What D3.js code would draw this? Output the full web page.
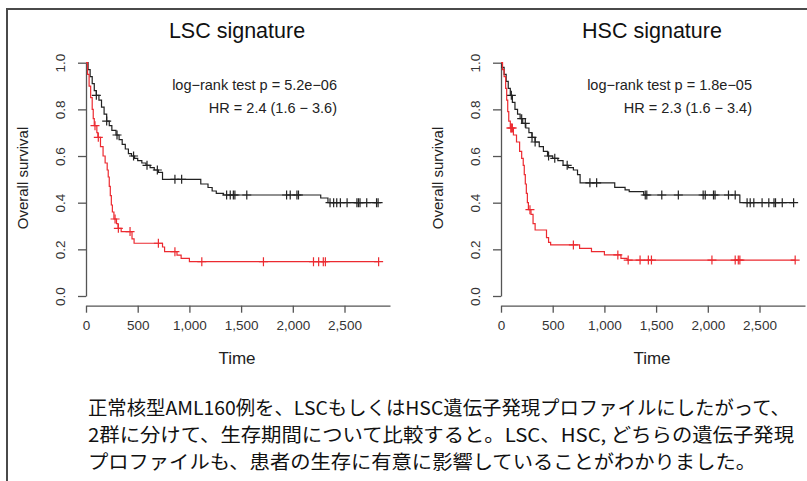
<!DOCTYPE html>
<html>
<head>
<meta charset="utf-8">
<style>body { margin: 0; background: #fff; }</style>
</head>
<body>
<script src="https://cdnjs.cloudflare.com/ajax/libs/d3/7.8.5/d3.min.js"></script>
<script>
var svgWidth = 807, svgHeight = 481;

// axis ticks
var timeTicks = [0, 500, 1000, 1500, 2000, 2500];
var survTicks = [0, 0.2, 0.4, 0.6, 0.8, 1.0];

// LSC signature panel: low-risk (black) and high-risk (red) groups
var lscBlackTime = [0, 20, 40, 60, 80, 100, 125, 150, 175, 200, 225, 250, 290, 320, 350, 380, 410, 440, 470, 500, 540, 580, 620, 660, 700, 740, 1110, 1180, 1220, 1260, 1330, 2270, 2340];
var lscBlackSurv = [1.0, 0.97, 0.94, 0.91, 0.88, 0.86, 0.84, 0.81, 0.78, 0.75, 0.73, 0.71, 0.69, 0.67, 0.65, 0.63, 0.61, 0.60, 0.59, 0.58, 0.57, 0.56, 0.55, 0.54, 0.53, 0.50, 0.48, 0.465, 0.45, 0.44, 0.433, 0.42, 0.40];
var lscBlackCensor = [100, 200, 300, 460, 590, 690, 860, 925, 1360, 1395, 1425, 1440, 1555, 1940, 1975, 2040, 2055, 2360, 2395, 2425, 2460, 2525, 2620, 2635, 2650, 2715, 2810, 2825];

var lscRedTime = [0, 15, 30, 45, 60, 70, 80, 105, 115, 140, 165, 185, 205, 215, 225, 235, 245, 255, 270, 295, 310, 340, 445, 465, 740, 760, 880, 920, 1000];
var lscRedSurv = [1.0, 0.95, 0.90, 0.85, 0.80, 0.76, 0.73, 0.70, 0.68, 0.64, 0.60, 0.57, 0.54, 0.51, 0.47, 0.43, 0.39, 0.36, 0.33, 0.31, 0.29, 0.276, 0.245, 0.226, 0.21, 0.19, 0.175, 0.161, 0.147];
var lscRedCensor = [87, 119, 281, 313, 426, 700, 860, 1120, 1716, 2200, 2250, 2295, 2315, 2830];

// HSC signature panel
var hscBlackTime = [0, 10, 30, 50, 70, 90, 110, 135, 160, 185, 210, 240, 270, 300, 330, 370, 410, 450, 500, 550, 600, 650, 700, 740, 765, 1100, 1200, 1240, 1380, 2310];
var hscBlackSurv = [1.0, 0.98, 0.95, 0.92, 0.89, 0.86, 0.83, 0.80, 0.78, 0.76, 0.74, 0.72, 0.70, 0.68, 0.66, 0.64, 0.62, 0.60, 0.59, 0.58, 0.56, 0.55, 0.54, 0.52, 0.485, 0.466, 0.455, 0.447, 0.433, 0.40];
var hscBlackCensor = [100, 200, 235, 300, 330, 460, 520, 640, 860, 925, 1395, 1410, 1555, 1715, 1955, 1975, 2055, 2070, 2200, 2265, 2380, 2410, 2445, 2525, 2590, 2640, 2655, 2720, 2830];

var hscRedTime = [0, 15, 30, 45, 55, 65, 75, 90, 120, 150, 180, 200, 215, 225, 235, 245, 255, 265, 290, 310, 330, 440, 460, 480, 760, 875, 1000, 1160, 1220];
var hscRedSurv = [1.0, 0.97, 0.94, 0.89, 0.84, 0.79, 0.75, 0.72, 0.69, 0.66, 0.62, 0.59, 0.56, 0.52, 0.48, 0.44, 0.40, 0.37, 0.35, 0.31, 0.283, 0.25, 0.23, 0.219, 0.204, 0.19, 0.176, 0.161, 0.154];
var hscRedCensor = [95, 100, 110, 280, 700, 1130, 1230, 1345, 1425, 1455, 2040, 2265, 2295, 2310, 2845];

var panelTitles = ['LSC signature', 'HSC signature'];
var pValueLabels = ['log\u2212rank test p = 5.2e\u221206', 'log\u2212rank test p = 1.8e\u221205'];
var hrLabels = ['HR = 2.4 (1.6 \u2212 3.6)', 'HR = 2.3 (1.6 \u2212 3.4)'];

var captionLines = [
    '正常核型AML160例を、LSCもしくはHSC遺伝子発現プロファイルにしたがって、',
    '2群に分けて、生存期間について比較すると。LSC、HSC, どちらの遺伝子発現',
    'プロファイルも、患者の生存に有意に影響していることがわかりました。'
];
// rendered width of each caption line in the reference
var captionWidths = [702, 706, 668];

var svg = d3.select('body')
    .append('svg')
    .attr('width', svgWidth)
    .attr('height', svgHeight)
    .style('background-color', '#ffffff');

// frame
svg.append('path')
    .attr('d', 'M7,' + svgHeight + ' V9 H' + svgWidth)
    .attr('fill', 'none')
    .attr('stroke', '#4a4a4a')
    .attr('stroke-width', 2);

var plotTop = 62.7, plotHeight = 233.3, plotWidth = 304, xAxisGap = 9.7;
var font = "'Liberation Sans', Arial, sans-serif";
var axisColor = '#555555';
var blackColor = '#222222', redColor = '#ec2a30';

function survAt(times, survs, t) {
    var i = d3.bisectRight(times, t) - 1;
    return survs[Math.max(i, 0)];
}

function drawPanel(left, idx, groups) {
    var g = svg.append('g')
        .attr('transform', 'translate(' + left + ',' + plotTop + ')');

    var xScale = d3.scaleLinear().domain([0, 2940]).range([0, plotWidth]);
    var yScale = d3.scaleLinear().domain([0, 1]).range([plotHeight, 0]);

    var yAxis = d3.axisLeft(yScale)
        .tickValues(survTicks)
        .tickSize(8)
        .tickSizeOuter(0)
        .tickFormat(d3.format('.1f'));
    var yg = g.append('g').call(yAxis);
    yg.selectAll('text')
        .attr('transform', 'rotate(-90)')
        .attr('x', 0)
        .attr('y', -26)
        .attr('dy', '0.35em')
        .attr('text-anchor', 'middle');

    var xAxis = d3.axisBottom(xScale)
        .tickValues(timeTicks)
        .tickSize(7)
        .tickSizeOuter(0)
        .tickPadding(8)
        .tickFormat(d3.format(','));
    var xg = g.append('g')
        .attr('transform', 'translate(0,' + (plotHeight + xAxisGap) + ')')
        .call(xAxis);

    [xg, yg].forEach(function (a) {
        a.attr('font-family', font).attr('font-size', 13.5);
        a.selectAll('text').attr('fill', '#333');
        a.selectAll('line').attr('stroke', axisColor).attr('stroke-width', 1.3);
        a.select('.domain').attr('stroke', axisColor).attr('stroke-width', 1.3);
    });

    var line = d3.line()
        .x(function (d) { return xScale(d.t); })
        .y(function (d) { return yScale(d.s); })
        .curve(d3.curveStepAfter);

    groups.forEach(function (grp) {
        var pts = grp.time.map(function (t, i) { return { t: t, s: grp.surv[i] }; });
        var lastT = d3.max(grp.censor);
        pts.push({ t: lastT, s: grp.surv[grp.surv.length - 1] });

        g.append('path')
            .datum(pts)
            .attr('d', line)
            .attr('fill', 'none')
            .attr('stroke', grp.color)
            .attr('stroke-width', 1.2);

        g.selectAll(null)
            .data(grp.censor)
            .enter()
            .append('path')
            .attr('d', function (t) {
                var cx = xScale(t), cy = yScale(survAt(grp.time, grp.surv, t));
                return 'M' + (cx - 4.5) + ',' + cy + 'H' + (cx + 4.5) +
                       'M' + cx + ',' + (cy - 4.5) + 'V' + (cy + 4.5);
            })
            .attr('stroke', grp.color)
            .attr('stroke-width', 1.2);
    });

    // titles and labels
    svg.append('text')
        .attr('x', left + plotWidth / 2 - 1)
        .attr('y', 30)
        .attr('dy', '0.35em')
        .attr('text-anchor', 'middle')
        .attr('font-family', font)
        .attr('font-size', 21.5)
        .attr('fill', '#111')
        .text(panelTitles[idx]);

    svg.append('text')
        .attr('x', left + 251)
        .attr('y', 85)
        .attr('dy', '0.35em')
        .attr('text-anchor', 'end')
        .attr('font-family', font)
        .attr('font-size', 14.5)
        .attr('fill', '#222')
        .text(pValueLabels[idx]);

    svg.append('text')
        .attr('x', left + 251)
        .attr('y', 108)
        .attr('dy', '0.35em')
        .attr('text-anchor', 'end')
        .attr('font-family', font)
        .attr('font-size', 14.5)
        .attr('fill', '#222')
        .text(hrLabels[idx]);

    svg.append('text')
        .attr('x', left + plotWidth / 2 - 1)
        .attr('y', 358)
        .attr('dy', '0.35em')
        .attr('text-anchor', 'middle')
        .attr('font-family', font)
        .attr('font-size', 17)
        .attr('fill', '#222')
        .text('Time');

    svg.append('text')
        .attr('transform', 'translate(' + (left - 63) + ',178) rotate(-90)')
        .attr('dy', '0.35em')
        .attr('text-anchor', 'middle')
        .attr('font-family', font)
        .attr('font-size', 15)
        .attr('fill', '#222')
        .text('Overall survival');
}

drawPanel(86, 0, [
    { time: lscBlackTime, surv: lscBlackSurv, censor: lscBlackCensor, color: blackColor },
    { time: lscRedTime, surv: lscRedSurv, censor: lscRedCensor, color: redColor }
]);
drawPanel(501, 1, [
    { time: hscBlackTime, surv: hscBlackSurv, censor: hscBlackCensor, color: blackColor },
    { time: hscRedTime, surv: hscRedSurv, censor: hscRedCensor, color: redColor }
]);

// caption
svg.selectAll('.caption')
    .data(captionLines)
    .enter()
    .append('text')
    .attr('class', 'caption')
    .attr('x', 88)
    .attr('y', function (d, i) { return 408 + i * 27; })
    .attr('dy', '0.35em')
    .attr('font-family', "'Noto Sans CJK JP', sans-serif")
    .attr('font-size', 19)
    .attr('fill', '#111')
    .attr('textLength', function (d, i) { return captionWidths[i]; })
    .attr('lengthAdjust', 'spacingAndGlyphs')
    .text(function (d) { return d; });
</script>
</body>
</html>
